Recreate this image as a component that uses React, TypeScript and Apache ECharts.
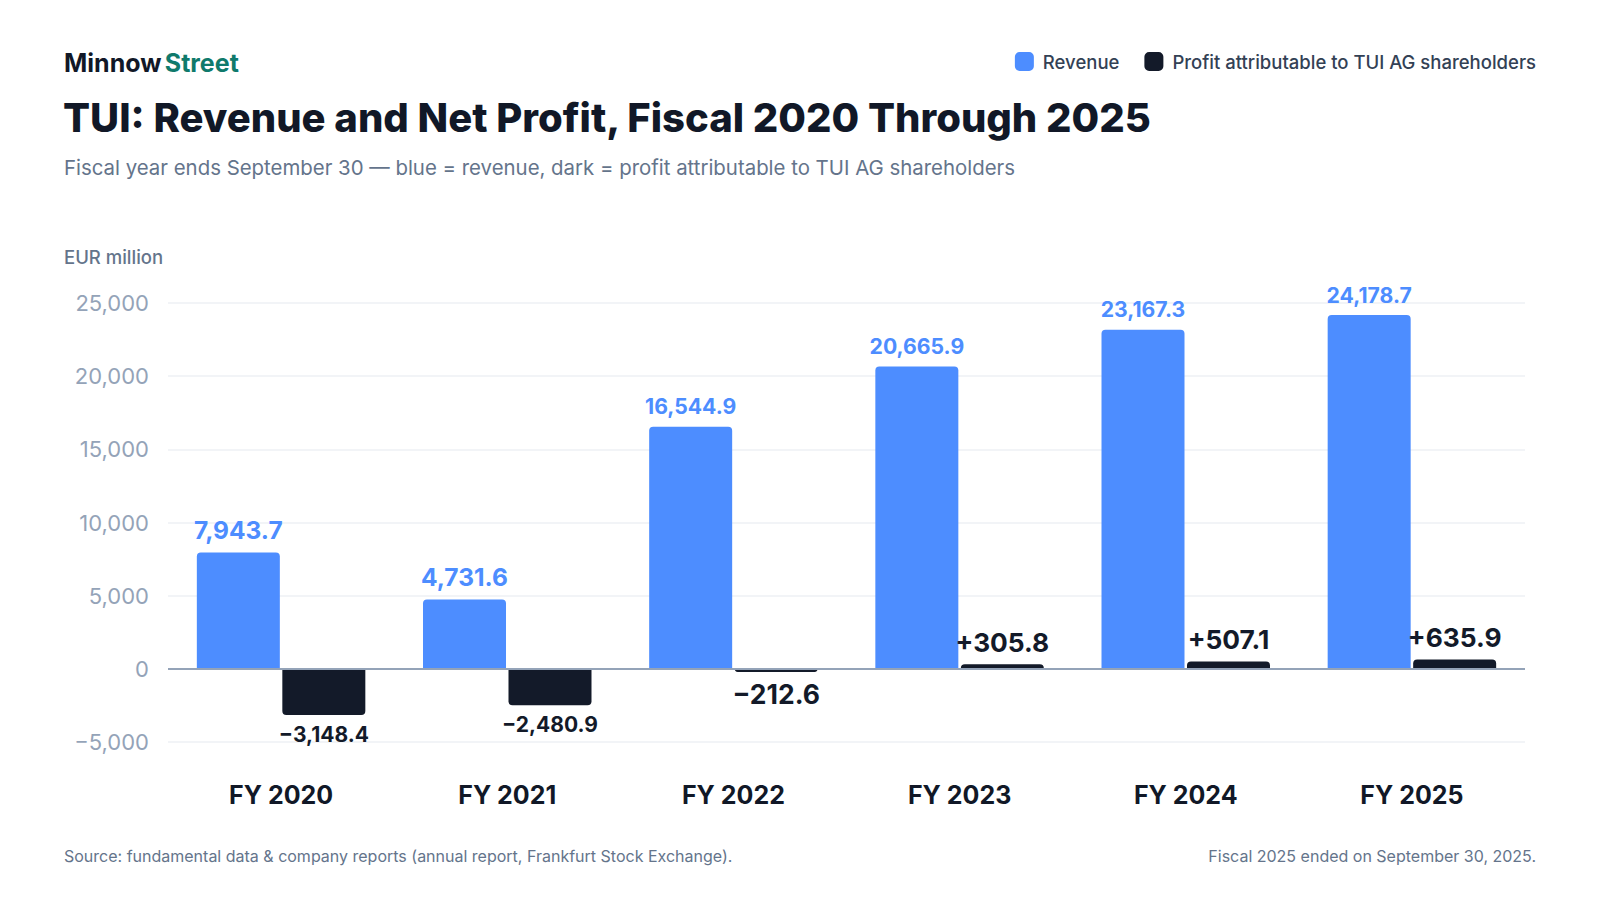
import React, { useEffect, useRef } from 'react';
import * as echarts from 'echarts';

const categories = ['FY 2020', 'FY 2021', 'FY 2022', 'FY 2023', 'FY 2024', 'FY 2025'];
const revenue = [7943.7, 4731.6, 16544.9, 20665.9, 23167.3, 24178.7];
const profit = [-3148.4, -2480.9, -212.6, 305.8, 507.1, 635.9];
// label sizes shrink for the longer numbers, as in the source
const revenueLabelSize = [24.5, 24.5, 21.2, 21.2, 21.2, 21.2];
const profitLabelSize = [21, 21, 26.5, 26.3, 26.3, 26.3];
const yTicks = { min: -5000, max: 25000, interval: 5000 };

const BLUE = '#4d8dff';
const DARK = '#131a29';
const FONT = 'Inter, "Noto Sans", sans-serif';

const fmt = (v: number) =>
  Math.abs(v).toLocaleString('en-US', { minimumFractionDigits: 1, maximumFractionDigits: 1 });

export default function App() {
  const chartRef = useRef<HTMLDivElement>(null);

  useEffect(() => {
    if (!chartRef.current) return;
    const chart = echarts.init(chartRef.current, null, { renderer: 'svg' });

    const option = {
      animation: false,
      backgroundColor: '#ffffff',
      textStyle: { fontFamily: FONT },
      graphic: [
        {
          type: 'text',
          left: 64,
          top: 50,
          style: {
            text: '{a|Minnow} {b|Street}',
            rich: {
              a: { fontSize: 25, fontWeight: 700, fill: '#111827', fontFamily: FONT },
              b: { fontSize: 25, fontWeight: 700, fill: '#0f7a6c', fontFamily: FONT }
            }
          }
        },
        {
          type: 'text',
          left: 63,
          top: 97,
          style: {
            text: 'TUI: Revenue and Net Profit, Fiscal 2020 Through 2025',
            fontSize: 40,
            fontWeight: 800,
            fill: '#111827',
            fontFamily: FONT
          }
        },
        {
          type: 'text',
          left: 64,
          top: 157,
          style: {
            text: 'Fiscal year ends September 30 \u2014 blue = revenue, dark = profit attributable to TUI AG shareholders',
            fontSize: 20.4,
            fill: '#64748b',
            fontFamily: FONT
          }
        },
        {
          type: 'text',
          left: 64,
          top: 247,
          style: {
            text: 'EUR million',
            fontSize: 18.5,
            fontWeight: 500,
            fill: '#64748b',
            fontFamily: FONT
          }
        },
        {
          type: 'text',
          left: 64,
          top: 848,
          style: {
            text: 'Source: fundamental data & company reports (annual report, Frankfurt Stock Exchange).',
            fontSize: 16,
            fill: '#64748b',
            fontFamily: FONT
          }
        },
        {
          type: 'text',
          right: 64,
          top: 848,
          style: {
            text: 'Fiscal 2025 ended on September 30, 2025.',
            fontSize: 16,
            fill: '#64748b',
            fontFamily: FONT
          }
        }
      ],
      legend: {
        right: 59,
        top: 47,
        itemWidth: 19,
        itemHeight: 19,
        itemGap: 25,
        icon: 'roundRect',
        textStyle: {
          fontSize: 18.5,
          color: '#334155',
          fontFamily: FONT,
          fontWeight: 500,
          padding: [0, 0, 0, 4]
        },
        data: ['Revenue', 'Profit attributable to TUI AG shareholders']
      },
      grid: { left: 168, right: 75, top: 303, bottom: 158 },
      xAxis: {
        type: 'category',
        data: categories,
        axisLine: { show: false, onZero: false },
        axisTick: { show: false },
        axisLabel: {
          margin: 40,
          fontSize: 25,
          fontWeight: 700,
          color: '#111827',
          fontFamily: FONT
        }
      },
      yAxis: {
        type: 'value',
        min: yTicks.min,
        max: yTicks.max,
        interval: yTicks.interval,
        axisLine: { show: false },
        axisTick: { show: false },
        splitLine: { lineStyle: { color: '#eef1f5', width: 1.5 } },
        axisLabel: {
          margin: 19,
          fontSize: 22,
          color: '#94a3b8',
          fontFamily: FONT,
          formatter: (v: number) => (v < 0 ? '\u2212' : '') + Math.abs(v).toLocaleString('en-US')
        }
      },
      series: [
        {
          name: 'Revenue',
          type: 'bar',
          barWidth: 83,
          barGap: '3%',
          itemStyle: { color: BLUE, borderRadius: [4, 4, 0, 0] },
          data: revenue.map((v, i) => ({
            value: v,
            label: {
              show: true,
              position: 'top',
              distance: 10,
              fontSize: revenueLabelSize[i],
              fontWeight: 700,
              color: BLUE,
              fontFamily: FONT,
              formatter: () => fmt(v)
            }
          })),
          markLine: {
            silent: true,
            symbol: 'none',
            label: { show: false },
            lineStyle: { color: '#94a3b8', width: 2, type: 'solid' },
            data: [{ yAxis: 0 }]
          }
        },
        {
          name: 'Profit attributable to TUI AG shareholders',
          type: 'bar',
          barWidth: 83,
          itemStyle: { color: DARK },
          data: profit.map((v, i) => ({
            value: v,
            itemStyle: { color: DARK, borderRadius: v >= 0 ? [4, 4, 0, 0] : [0, 0, 4, 4] },
            label: {
              show: true,
              position: v >= 0 ? 'top' : 'bottom',
              distance: 9,
              fontSize: profitLabelSize[i],
              fontWeight: 700,
              color: DARK,
              fontFamily: FONT,
              formatter: () => (v >= 0 ? '+' : '\u2212') + fmt(v)
            }
          }))
        }
      ]
    };

    chart.setOption(option);
    return () => {
      chart.dispose();
    };
  }, []);

  return (
    <div
      ref={chartRef}
      style={{ position: 'absolute', left: 0, top: 0, width: 1600, height: 900 }}
    />
  );
}
